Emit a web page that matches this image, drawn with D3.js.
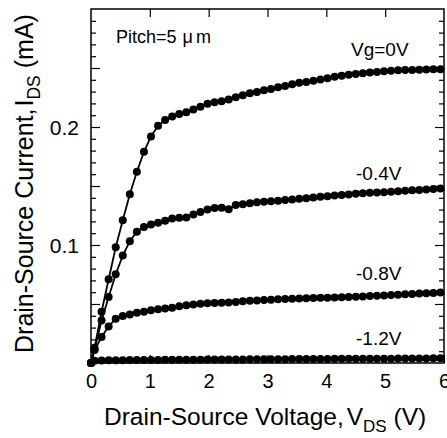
<!DOCTYPE html>
<html>
<head>
<meta charset="utf-8">
<script src="https://cdn.jsdelivr.net/npm/d3@7"></script>
<style>
  body { margin: 0; background: #fff; }
  svg text { font-family: "Liberation Sans", Arial, sans-serif; fill: #000; }
</style>
</head>
<body>
<div class="chart"></div>
<script>
// drain-source voltage sweep (V)
var vds = [0, 0.06, 0.18, 0.30, 0.42, 0.54, 0.66, 0.78, 0.90, 1.02, 1.14,
  1.26, 1.38, 1.50, 1.62, 1.74, 1.86, 1.98, 2.10, 2.22, 2.34,
  2.46, 2.58, 2.70, 2.82, 2.94, 3.06, 3.18, 3.30, 3.42, 3.54,
  3.66, 3.78, 3.90, 4.02, 4.14, 4.26, 4.38, 4.50, 4.62, 4.74,
  4.86, 4.98, 5.10, 5.22, 5.34, 5.46, 5.58, 5.70, 5.82, 5.94];

// drain current (mA) for each gate voltage
var idsVg0 = [0, 0.013, 0.0435, 0.071, 0.098, 0.121, 0.143, 0.162, 0.179, 0.192, 0.201,
  0.206, 0.209, 0.211, 0.2125, 0.2148, 0.2172, 0.2198, 0.221, 0.2218, 0.2232,
  0.2252, 0.227, 0.2286, 0.2296, 0.2312, 0.2322, 0.2336, 0.2348, 0.2362, 0.2374,
  0.2382, 0.2392, 0.2402, 0.2414, 0.2426, 0.2434, 0.2442, 0.2450, 0.2456, 0.2462,
  0.2466, 0.2472, 0.2476, 0.2480, 0.2482, 0.2484, 0.2486, 0.2488, 0.2489, 0.2490];

var idsVgM04 = [0, 0.0115, 0.036, 0.056, 0.0752, 0.091, 0.1032, 0.1113, 0.1152, 0.1173, 0.1189,
  0.1206, 0.1224, 0.1231, 0.1233, 0.1258, 0.1280, 0.1300, 0.1314, 0.1316, 0.1304,
  0.1338, 0.1345, 0.1353, 0.1362, 0.1366, 0.1370, 0.1375, 0.1381, 0.1386, 0.1391,
  0.1396, 0.1402, 0.1408, 0.1414, 0.1419, 0.1424, 0.1429, 0.1434, 0.1438, 0.1442,
  0.1445, 0.1448, 0.1451, 0.1455, 0.1459, 0.1463, 0.1467, 0.1471, 0.1475, 0.1479];

var idsVgM08 = [0, 0.011, 0.022, 0.031, 0.0375, 0.0398, 0.0412, 0.0425, 0.0435, 0.0447, 0.0455,
  0.0462, 0.0469, 0.0480, 0.0490, 0.0496, 0.0502, 0.0506, 0.0508, 0.0510, 0.0512,
  0.0518, 0.0524, 0.0528, 0.0530, 0.0533, 0.0537, 0.0540, 0.0542, 0.0544, 0.0546,
  0.0548, 0.0550, 0.0552, 0.0554, 0.0556, 0.0558, 0.0560, 0.0562, 0.0564, 0.0567,
  0.0570, 0.0573, 0.0576, 0.0579, 0.0582, 0.0585, 0.0588, 0.0591, 0.0594, 0.0598];

var idsVgM12 = [0, 0.0020, 0.0022, 0.0023, 0.0024, 0.0024, 0.0025, 0.0025, 0.0026, 0.0026, 0.0026,
  0.0027, 0.0027, 0.0027, 0.0028, 0.0028, 0.0028, 0.0029, 0.0029, 0.0029, 0.0030,
  0.0030, 0.0030, 0.0031, 0.0031, 0.0031, 0.0032, 0.0032, 0.0032, 0.0033, 0.0033,
  0.0033, 0.0034, 0.0034, 0.0034, 0.0035, 0.0035, 0.0035, 0.0036, 0.0036, 0.0036,
  0.0037, 0.0037, 0.0037, 0.0038, 0.0038, 0.0038, 0.0039, 0.0039, 0.0040, 0.0040];

var seriesLabels = ["Vg=0V", "-0.4V", "-0.8V", "-1.2V"];
var xTicks = [0, 1, 2, 3, 4, 5, 6];
var yTicks = [0.1, 0.2];

var svgWidth = 447;
var svgHeight = 438;
var margin = { top: 9, right: 3, bottom: 75, left: 91 };
var width = svgWidth - margin.left - margin.right;
var height = svgHeight - margin.top - margin.bottom;

var svg = d3.select(".chart")
  .append("svg")
  .attr("width", svgWidth)
  .attr("height", svgHeight);

var chartGroup = svg.append("g")
  .attr("transform", `translate(${margin.left}, ${margin.top})`);

var xScale = d3.scaleLinear().domain([0, 6]).range([0, width]);
var yScale = d3.scaleLinear().domain([0, 0.3]).range([height, 0]);

// build series from the arrays
var series = [idsVg0, idsVgM04, idsVgM08, idsVgM12].map(function (vals, i) {
  return {
    label: seriesLabels[i],
    points: vals.map(function (v, j) { return { x: vds[j], y: v }; })
  };
});

// y ticks: minor every 0.01, medium every 0.05
var yMinor = d3.range(1, 30).map(d => d / 100).filter(d => Math.round(d * 100) % 5 !== 0);
var yMid = [0.05, 0.15, 0.25];

function styleAxis(g) {
  g.select(".domain").remove();
  g.selectAll("line").attr("stroke", "#000").attr("stroke-width", 1.2);
}

// left axis
chartGroup.append("g")
  .call(d3.axisLeft(yScale).tickValues(yTicks).tickSizeInner(-9).tickSizeOuter(0)
    .tickPadding(12).tickFormat(d3.format(".1f")))
  .call(styleAxis)
  .selectAll("text").style("font-size", "21px").attr("dy", "0.36em");
chartGroup.append("g")
  .call(d3.axisLeft(yScale).tickValues(yMid).tickSize(-9).tickFormat(""))
  .call(styleAxis);
chartGroup.append("g")
  .call(d3.axisLeft(yScale).tickValues(yMinor).tickSize(-5).tickFormat(""))
  .call(styleAxis);

// right axis
chartGroup.append("g")
  .attr("transform", `translate(${width}, 0)`)
  .call(d3.axisRight(yScale).tickValues(yTicks.concat(yMid)).tickSize(-9).tickFormat(""))
  .call(styleAxis);
chartGroup.append("g")
  .attr("transform", `translate(${width}, 0)`)
  .call(d3.axisRight(yScale).tickValues(yMinor).tickSize(-5).tickFormat(""))
  .call(styleAxis);

// bottom axis
chartGroup.append("g")
  .attr("transform", `translate(0, ${height})`)
  .call(d3.axisBottom(xScale).tickValues(xTicks).tickSizeInner(-8).tickSizeOuter(0)
    .tickPadding(11).tickFormat(d3.format("d")))
  .call(styleAxis)
  .selectAll("text").style("font-size", "20px");

// top axis
chartGroup.append("g")
  .call(d3.axisTop(xScale).tickValues(xTicks.slice(1, 6)).tickSize(-8).tickFormat(""))
  .call(styleAxis);

// frame
chartGroup.append("rect")
  .attr("x", 0).attr("y", 0)
  .attr("width", width).attr("height", height)
  .attr("fill", "none")
  .attr("stroke", "#000")
  .attr("stroke-width", 1.5);

// curves
var line = d3.line()
  .x(d => xScale(d.x))
  .y(d => yScale(d.y));

var curveGroups = chartGroup.selectAll(".curve")
  .data(series)
  .enter()
  .append("g")
  .attr("class", "curve");

curveGroups.append("path")
  .attr("d", d => line(d.points))
  .attr("fill", "none")
  .attr("stroke", "#000")
  .attr("stroke-width", 1.8);

curveGroups.selectAll("circle")
  .data(d => d.points)
  .enter()
  .append("circle")
  .attr("cx", d => xScale(d.x))
  .attr("cy", d => yScale(d.y))
  .attr("r", 4)
  .attr("fill", "#000");

// curve labels
var labelPos = [[351, 56], [356, 180], [356, 280], [356, 345]];
svg.selectAll(".curve-label")
  .data(seriesLabels)
  .enter()
  .append("text")
  .attr("class", "curve-label")
  .attr("x", (d, i) => labelPos[i][0])
  .attr("y", (d, i) => labelPos[i][1])
  .style("font-size", "19px")
  .text(d => d);

// pitch note
var pitch = svg.append("text")
  .attr("x", 116)
  .attr("y", 43)
  .style("font-size", "18px");
pitch.append("tspan").text("Pitch=5");
pitch.append("tspan").attr("dx", 6).text("\u03bc");
pitch.append("tspan").attr("dx", 3).text("m");

// axis titles
var xTitle = svg.append("text")
  .attr("x", 104)
  .attr("y", 425)
  .style("font-size", "24.5px");
xTitle.append("tspan").text("Drain-Source Voltage,");
xTitle.append("tspan").attr("dx", 3).text("V");
xTitle.append("tspan").attr("dy", 7).style("font-size", "17px").text("DS");
xTitle.append("tspan").attr("dy", -7).text(" (V)");

var yTitle = svg.append("text")
  .attr("transform", "translate(33, 353) rotate(-90)")
  .style("font-size", "25px");
yTitle.append("tspan").text("Drain-Source Current,");
yTitle.append("tspan").attr("dx", 2).text("I");
yTitle.append("tspan").attr("dy", 7).style("font-size", "17.5px").text("DS");
yTitle.append("tspan").attr("dy", -7).text(" (mA)");
</script>
</body>
</html>
